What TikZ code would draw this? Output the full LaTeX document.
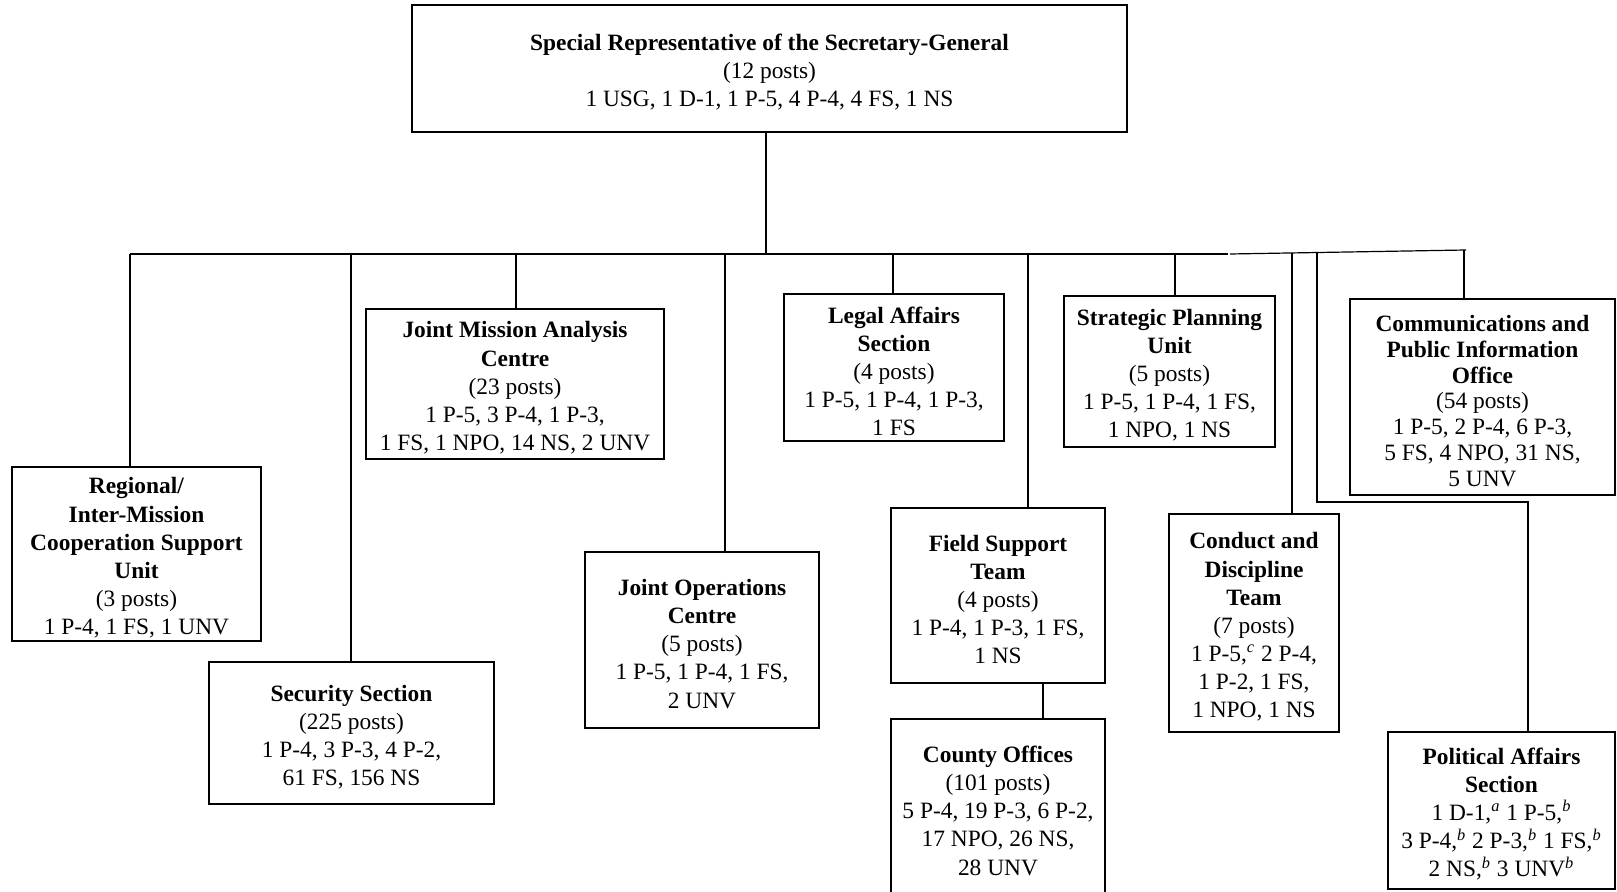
\documentclass[tikz,border=0pt]{standalone}
\usepackage{fontspec}
\setmainfont{Liberation Serif}
\newcommand{\boxfont}{\fontsize{11.7}{14.05}\selectfont}
\newcommand{\tightfont}{\fontsize{11.7}{12.9}\selectfont}
\newcommand{\fn}[1]{\textsuperscript{\textit{#1}}}
% strut that lowers the text block a little inside each box
\newcommand{\tg}{\rule{0pt}{12pt}}
\begin{document}
\begin{tikzpicture}[x=0.5pt,y=-0.5pt,
  orgbox/.style 2 args={draw, line width=1.1pt, minimum width=#1*0.5pt,
    minimum height=#2*0.5pt, inner sep=0pt, align=center, font=\boxfont},
  link/.style={line width=0.6pt}]
\useasboundingbox (0,0) rectangle (1617,892);

% units
\node[orgbox={715}{127}] (srsg) at (769.5,68.5)
  {\tg\textbf{Special Representative of the Secretary-General}\\(12 posts)\\1 USG, 1 D-1, 1 P-5, 4 P-4, 4 FS, 1 NS};
\node[orgbox={249}{174}] (reg) at (136.5,554)
  {\tg\textbf{Regional/}\\\textbf{Inter-Mission}\\\textbf{Cooperation Support}\\\textbf{Unit}\\(3 posts)\\1 P-4, 1 FS, 1 UNV};
\node[orgbox={285}{142}] (sec) at (351.5,733)
  {\tg\textbf{Security Section}\\(225 posts)\\1 P-4, 3 P-3, 4 P-2,\\61 FS, 156 NS};
\node[orgbox={298}{150}] (jmac) at (515,384)
  {\tg\textbf{Joint Mission Analysis}\\\textbf{Centre}\\(23 posts)\\1 P-5, 3 P-4, 1 P-3,\\1 FS, 1 NPO, 14 NS, 2 UNV};
\node[orgbox={234}{176}] (joc) at (702,640)
  {\tg\textbf{Joint Operations}\\\textbf{Centre}\\(5 posts)\\1 P-5, 1 P-4, 1 FS,\\2 UNV};
\node[orgbox={220}{147}] (legal) at (894,367.5)
  {\tg\textbf{Legal Affairs}\\\textbf{Section}\\(4 posts)\\1 P-5, 1 P-4, 1 P-3,\\1 FS};
\node[orgbox={214}{175}] (field) at (998,595.5)
  {\tg\textbf{Field Support}\\\textbf{Team}\\(4 posts)\\1 P-4, 1 P-3, 1 FS,\\1 NS};
\node[orgbox={214}{176}] (county) at (998,807)
  {\tg\textbf{County Offices}\\(101 posts)\\5 P-4, 19 P-3, 6 P-2,\\17 NPO, 26 NS,\\28 UNV};
\node[orgbox={211}{151}] (strat) at (1169.5,371.5)
  {\tg\textbf{Strategic Planning}\\\textbf{Unit}\\(5 posts)\\1 P-5, 1 P-4, 1 FS,\\1 NPO, 1 NS};
\node[orgbox={170}{218}] (cond) at (1254,623)
  {\tg\textbf{Conduct and}\\\textbf{Discipline}\\\textbf{Team}\\(7 posts)\\1 P-5,\fn{c} 2 P-4,\\1 P-2, 1 FS,\\1 NPO, 1 NS};
\node[orgbox={265}{196}, font=\tightfont] (comm) at (1482.5,397)
  {\tg\textbf{Communications and}\\\textbf{Public Information}\\\textbf{Office}\\(54 posts)\\1 P-5, 2 P-4, 6 P-3,\\5 FS, 4 NPO, 31 NS,\\5 UNV};
\node[orgbox={227}{157}] (pol) at (1501.5,810.5)
  {\tg\textbf{Political Affairs}\\\textbf{Section}\\1 D-1,\fn{a} 1 P-5,\fn{b}\\3 P-4,\fn{b} 2 P-3,\fn{b} 1 FS,\fn{b}\\2 NS,\fn{b} 3 UNV\fn{b}};

% distribution bus
\coordinate (top) at (766,254);
\coordinate (busL) at (130,254);
\coordinate (busM) at (1228,254);
\coordinate (busN) at (1230,254);
\coordinate (busR) at (1466,250);
\draw[link] (srsg.south -| top) -- (top);
\draw[link] (busL) -- (busM);
\draw[link] (busN) -- (busR);

% drop points on the bus
\coordinate (dreg) at (130,254);
\coordinate (dsec) at (351,254);
\coordinate (djmac) at (516,254);
\coordinate (djoc) at (725,254);
\coordinate (dlegal) at (893,254);
\coordinate (dfield) at (1028,254);
\coordinate (dstrat) at (1175,254);
\coordinate (dcond) at (1292,253);
\coordinate (dpol) at (1317,253);
\coordinate (dcomm) at (1464,250);

\draw[link] (dreg) -- (dreg |- reg.north);
\draw[link] (dsec) -- (dsec |- sec.north);
\draw[link] (djmac) -- (djmac |- jmac.north);
\draw[link] (djoc) -- (djoc |- joc.north);
\draw[link] (dlegal) -- (dlegal |- legal.north);
\draw[link] (dfield) -- (dfield |- field.north);
\draw[link] (dstrat) -- (dstrat |- strat.north);
\draw[link] (dcond) -- (dcond |- cond.north);
\draw[link] (dcomm) -- (dcomm |- comm.north);

% political affairs route around the communications office
\coordinate (polbend) at (1528,502);
\draw[link] (dpol) |- (polbend) -- (polbend |- pol.north);

% field support to county offices
\coordinate (fc) at (1043,0);
\draw[link] (fc |- field.south) -- (fc |- county.north);
\end{tikzpicture}
\end{document}
